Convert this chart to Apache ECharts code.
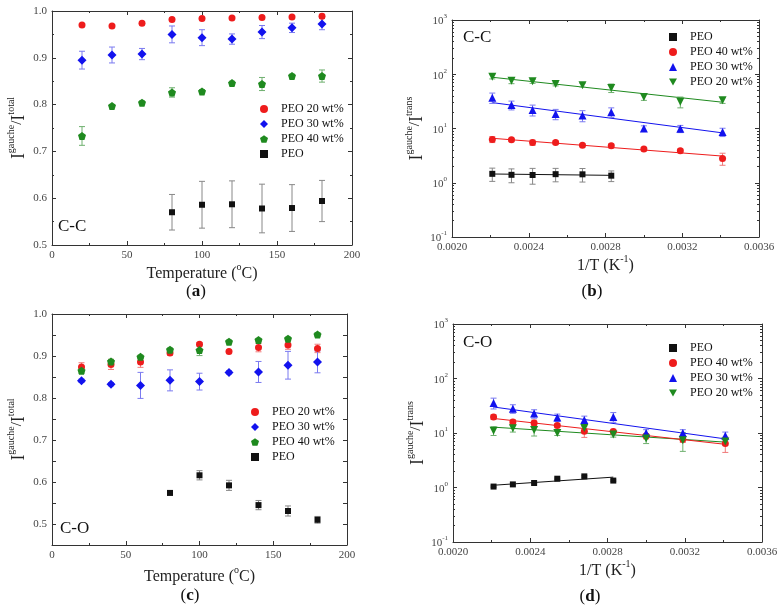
<!DOCTYPE html>
<html>
<head>
<meta charset="utf-8">
<script src="https://cdn.jsdelivr.net/npm/echarts@6/dist/echarts.min.js"></script>
<style>
html,body{margin:0;padding:0;background:#fff;}
#main{width:781px;height:614px;}
</style>
</head>
<body>
<div id="main"></div>
<script>
// (a) C-C 温度
var tempX = [20,40,60,80,100,120,140,160,180];
var tempPEO = [80,100,120,140,160,180];
var ccPEO20 = [0.970,0.968,0.974,0.982,0.984,0.985,0.986,0.987,0.989];
var ccPEO20Err = [0.003,0.003,0.003,0.003,0.003,0.003,0.003,0.003,0.004];
var ccPEO30 = [0.895,0.906,0.908,0.950,0.943,0.940,0.955,0.964,0.972];
var ccPEO30Err = [0.019,0.017,0.012,0.018,0.017,0.011,0.014,0.010,0.012];
var ccPEO40 = [0.733,0.797,0.804,0.826,0.828,0.846,0.844,0.861,0.861];
var ccPEO40Err = [0.020,0.003,0.004,0.010,0.004,0.004,0.014,0.004,0.013];
var ccPEO = [0.570,0.586,0.587,0.578,0.579,0.594];
var ccPEOErr = [0.038,0.050,0.050,0.052,0.050,0.044];

// (c) C-O 温度
var coPEO20 = [0.874,0.880,0.886,0.907,0.928,0.911,0.920,0.926,0.918];
var coPEO20Err = [0.010,0.012,0.013,0.005,0.004,0.003,0.010,0.010,0.010];
var coPEO30 = [0.841,0.833,0.830,0.842,0.839,0.861,0.862,0.878,0.886];
var coPEO30Err = [0.004,0.004,0.031,0.025,0.020,0.004,0.025,0.033,0.026];
var coPEO40 = [0.865,0.887,0.898,0.915,0.914,0.934,0.938,0.941,0.951];
var coPEO40Err = [0.006,0.005,0.004,0.004,0.013,0.004,0.004,0.004,0.005];
var coPEO = [0.574,0.616,0.592,0.545,0.531,0.510];
var coPEOErr = [0.005,0.011,0.012,0.011,0.012,0.008];

// (b)(d) 1/T
var invT = [0.00221,0.00231,0.00242,0.00254,0.00268,0.00283,0.00300,0.00319,0.00341];
var invTPEO = [0.00221,0.00231,0.00242,0.00254,0.00268,0.00283];
var fitX = [0.00221,0.00341];
var fitXPEO = [0.00221,0.00283];

var ccT20 = [90,76,74,66,63,56,38,31,33];
var ccT20Err = [8,9,6,5,5,10,5,7,4];
var ccT30 = [37,27,22,18.5,17.3,20,10,9.9,8.6];
var ccT30Err = [8,5,5,4,4,4,1.2,1.5,1.5];
var ccT40 = [6.3,6.2,5.5,5.5,4.9,4.8,4.2,3.9,2.8];
var ccT40Err = [0.8,0.4,0.6,0.4,0.3,0.4,0.3,0.3,0.7];
var ccTPEO = [1.46,1.40,1.39,1.44,1.43,1.35];
var ccTPEOErr = [0.4,0.4,0.45,0.4,0.4,0.3];
var ccFit20 = [88,30.5];
var ccFit30 = [30,8.3];
var ccFit40 = [6.6,3.1];
var ccFitPEO = [1.45,1.37];

var coT20 = [11,12.2,11.3,10,12.3,9.4,7.9,7.4,7.0];
var coT20Err = [2,1.8,2.5,1,2,1,1.5,2.8,1];
var coT30 = [35.6,28,22.7,19.2,17.4,19.7,10,10,8.9];
var coT30Err = [8,5,4,3,3,4,1.5,1.5,1.5];
var coT40 = [19.7,16,15.2,13.8,10.8,10.7,8.8,7.7,6.4];
var coT40Err = [2,1.5,2,1,2.5,1,1,1,2];
var coTPEO = [1.04,1.14,1.21,1.45,1.60,1.34];
var coTPEOErr = [0.03,0.03,0.03,0.04,0.05,0.04];
var coFit20 = [12.8,6.8];
var coFit30 = [30,7.8];
var coFit40 = [18.5,6.2];
var coFitPEO = [1.1,1.55];

var FONT = 'Liberation Serif';
var AXC = '#333';
var RED = '#ee1c1c', BLUE = '#1212ee', GREEN = '#1f8a1f', BLACK = '#111';
var RED_E = '#f07a7a', BLUE_E = '#7a7af0', GREEN_E = '#6fb06f', BLACK_E = '#888';
var PENTAGON = 'path://M0,-10 L9.51,-3.09 L5.88,8.09 L-5.88,8.09 L-9.51,-3.09 Z';
var DOWNTRI = 'path://M-10,-8 L10,-8 L0,9 Z';

function pts(xs, ys){
	return xs.map(function(x,i){ return [x, ys[i]]; });
}
function errPts(xs, ys, es){
	return xs.map(function(x,i){ return [x, ys[i]-es[i], ys[i]+es[i]]; });
}
function errBar(color){
	return function(params, api){
		var x = api.value(0);
		var p1 = api.coord([x, api.value(1)]);
		var p2 = api.coord([x, api.value(2)]);
		var w = 3;
		var st = {stroke: color, lineWidth: 1};
		return {type:'group', children:[
			{type:'line', shape:{x1:p1[0],y1:p1[1],x2:p2[0],y2:p2[1]}, style:st},
			{type:'line', shape:{x1:p1[0]-w,y1:p1[1],x2:p1[0]+w,y2:p1[1]}, style:st},
			{type:'line', shape:{x1:p2[0]-w,y1:p2[1],x2:p2[0]+w,y2:p2[1]}, style:st}
		]};
	};
}
function stripName(name){
	return name.split(':')[1];
}

var series = [];
function addSet(panel, idx, name, xs, ys, es, symbol, size, color, ecolor){
	series.push({
		type:'custom', xAxisIndex:idx*2, yAxisIndex:idx*2, silent:true, z:2,
		renderItem: errBar(ecolor), encode:{x:0, y:[1,2]},
		data: errPts(xs, ys, es)
	});
	series.push({
		type:'scatter', name: panel + ':' + name, xAxisIndex:idx*2, yAxisIndex:idx*2, z:3,
		symbol: symbol, symbolSize: size, itemStyle:{color: color, opacity:1},
		data: pts(xs, ys)
	});
}
function addFit(idx, xs, ys, color){
	series.push({
		type:'line', xAxisIndex:idx*2, yAxisIndex:idx*2, z:1, silent:true,
		symbol:'none', lineStyle:{color: color, width:1},
		data: pts(xs, ys)
	});
}

// (a)
addSet('a',0,'PEO 20 wt%',tempX,ccPEO20,ccPEO20Err,'circle',7,RED,RED_E);
addSet('a',0,'PEO 30 wt%',tempX,ccPEO30,ccPEO30Err,'diamond',9,BLUE,BLUE_E);
addSet('a',0,'PEO 40 wt%',tempX,ccPEO40,ccPEO40Err,PENTAGON,8,GREEN,GREEN_E);
addSet('a',0,'PEO',tempPEO,ccPEO,ccPEOErr,'rect',6,BLACK,BLACK_E);
// (b)
addFit(1,fitX,ccFit20,GREEN);
addFit(1,fitX,ccFit30,BLUE);
addFit(1,fitX,ccFit40,RED);
addFit(1,fitXPEO,ccFitPEO,BLACK);
addSet('b',1,'PEO',invTPEO,ccTPEO,ccTPEOErr,'rect',6,BLACK,BLACK_E);
addSet('b',1,'PEO 40 wt%',invT,ccT40,ccT40Err,'circle',7,RED,RED_E);
addSet('b',1,'PEO 30 wt%',invT,ccT30,ccT30Err,'triangle',8,BLUE,BLUE_E);
addSet('b',1,'PEO 20 wt%',invT,ccT20,ccT20Err,DOWNTRI,8,GREEN,GREEN_E);
// (c)
addSet('c',2,'PEO 20 wt%',tempX,coPEO20,coPEO20Err,'circle',7,RED,RED_E);
addSet('c',2,'PEO 30 wt%',tempX,coPEO30,coPEO30Err,'diamond',9,BLUE,BLUE_E);
addSet('c',2,'PEO 40 wt%',tempX,coPEO40,coPEO40Err,PENTAGON,8,GREEN,GREEN_E);
addSet('c',2,'PEO',tempPEO,coPEO,coPEOErr,'rect',6,BLACK,BLACK_E);
// (d)
addFit(3,fitX,coFit20,GREEN);
addFit(3,fitX,coFit30,BLUE);
addFit(3,fitX,coFit40,RED);
addFit(3,fitXPEO,coFitPEO,BLACK);
addSet('d',3,'PEO',invTPEO,coTPEO,coTPEOErr,'rect',6,BLACK,BLACK_E);
addSet('d',3,'PEO 40 wt%',invT,coT40,coT40Err,'circle',7,RED,RED_E);
addSet('d',3,'PEO 30 wt%',invT,coT30,coT30Err,'triangle',8,BLUE,BLUE_E);
addSet('d',3,'PEO 20 wt%',invT,coT20,coT20Err,DOWNTRI,8,GREEN,GREEN_E);

var tickLabel = {fontFamily:FONT, fontSize:11, color:'#444', margin:5};
var nameRich = {
	n:{fontFamily:FONT, fontSize:16, color:'#222', lineHeight:20, verticalAlign:'bottom'},
	s:{fontFamily:FONT, fontSize:10, color:'#222', lineHeight:11, verticalAlign:'top'},
	i:{fontFamily:FONT, fontSize:18, color:'#222', lineHeight:22, verticalAlign:'bottom'},
	sl:{fontFamily:FONT, fontSize:15, color:'#222', lineHeight:22, verticalAlign:'middle'}
};
var logRich = {
	b:{fontFamily:FONT, fontSize:11, color:'#444', lineHeight:14, verticalAlign:'bottom'},
	e:{fontFamily:FONT, fontSize:7, color:'#444', lineHeight:8, verticalAlign:'top'}
};
function logLabel(v){
	return '{b|10}{e|' + Math.round(Math.log(v)/Math.LN10) + '}';
}

function xAxes(gi, opt, name, gap){
	var base = {
		gridIndex:gi, type:'value', min:opt.min, max:opt.max, interval:opt.interval,
		axisLine:{show:true, onZero:false, lineStyle:{color:AXC, width:1}},
		axisTick:{show:true, inside:true, length:4, lineStyle:{color:AXC}},
		minorTick:{show:!!opt.minor, splitNumber:opt.minor || 5, length:2, lineStyle:{color:AXC}},
		splitLine:{show:false}
	};
	var bottom = Object.assign({}, base, {
		position:'bottom',
		axisLabel: Object.assign({}, tickLabel, {formatter: opt.fmt}),
		name:name, nameLocation:'middle', nameGap:gap,
		nameTextStyle:{rich:nameRich}
	});
	var top = Object.assign({}, base, {position:'top', axisLabel:{show:false}});
	return [bottom, top];
}
function yAxes(gi, opt, name, gap){
	var base = {
		gridIndex:gi, type:opt.type || 'value', min:opt.min, max:opt.max,
		axisLine:{show:true, onZero:false, lineStyle:{color:AXC, width:1}},
		axisTick:{show:true, inside:true, length:4, lineStyle:{color:AXC}},
		minorTick:{show:!!opt.minor, splitNumber:opt.minor || 5, length:2, lineStyle:{color:AXC}},
		splitLine:{show:false}
	};
	if(opt.interval) base.interval = opt.interval;
	if(opt.type == 'log') base.logBase = 10;
	var left = Object.assign({}, base, {
		position:'left',
		axisLabel: Object.assign({}, tickLabel, {formatter: opt.fmt, rich: logRich}),
		name:name, nameLocation:'middle', nameGap:gap,
		nameTextStyle:{rich:nameRich}
	});
	var right = Object.assign({}, base, {position:'right', axisLabel:{show:false}});
	return [left, right];
}

var tempName = '{n|Temperature (}{s|o}{n|C)}';
var invName = '{n|1/T (K}{s|-1}{n|)}';
var ratioTotal = '{i|I}{s|gauche}{sl|/}{i|I}{s|total}';
var ratioTrans = '{i|I}{s|gauche}{sl|/}{i|I}{s|trans}';

function fmt1(v){ return v.toFixed(1); }
function fmtHalf(v){
	var t = v*10;
	return Math.abs(t - Math.round(t)) < 1e-6 ? v.toFixed(1) : '';
}
function fmt4(v){ return v.toFixed(4); }

var xAxisList = [].concat(
	xAxes(0,{min:0,max:200,interval:50,minor:2}, tempName, 17),
	xAxes(1,{min:0.0020,max:0.0036,interval:0.0004,minor:2,fmt:fmt4}, invName, 14),
	xAxes(2,{min:0,max:200,interval:50,minor:2}, tempName, 20),
	xAxes(3,{min:0.0020,max:0.0036,interval:0.0004,minor:2,fmt:fmt4}, invName, 14)
);
var yAxisList = [].concat(
	yAxes(0,{min:0.5,max:1.0,interval:0.1,minor:2,fmt:fmt1}, ratioTotal, 24),
	yAxes(1,{type:'log',min:0.1,max:1000,minor:9,fmt:logLabel}, ratioTrans, 24),
	yAxes(2,{min:0.45,max:1.0,interval:0.05,fmt:fmtHalf}, ratioTotal, 24),
	yAxes(3,{type:'log',min:0.1,max:1000,minor:9,fmt:logLabel}, ratioTrans, 24)
);

function legendAt(left, top, names){
	return {
		left:left, top:top, orient:'vertical', data:names, formatter:stripName,
		itemWidth:8, itemHeight:8, itemGap:3, selectedMode:false,
		textStyle:{fontFamily:FONT, fontSize:12, color:'#111', padding:[0,0,0,8]}
	};
}

function panelText(x, y, txt){
	return {type:'text', left:x, top:y, style:{text:txt, fontFamily:FONT, fontSize:17, fill:'#111'}};
}
function panelTag(cx, cy, letter){
	return {type:'text', x:cx, y:cy, style:{
		text:'{p|(}{l|' + letter + '}{p|)}', align:'center', verticalAlign:'middle',
		rich:{p:{fontFamily:FONT, fontSize:17, fill:'#111'}, l:{fontFamily:FONT, fontSize:17, fontWeight:'bold', fill:'#111'}}
	}};
}

var myChart = echarts.init(document.getElementById('main'));
var option = {
	animation:false,
	backgroundColor:'#fff',
	grid:[
		{left:52, top:11, width:300, height:234},
		{left:452, top:20, width:307, height:217},
		{left:52, top:314, width:295, height:231},
		{left:453, top:324, width:309, height:218}
	],
	xAxis: xAxisList,
	yAxis: yAxisList,
	legend:[
		legendAt(255, 98, ['a:PEO 20 wt%','a:PEO 30 wt%','a:PEO 40 wt%','a:PEO']),
		legendAt(664, 26, ['b:PEO','b:PEO 40 wt%','b:PEO 30 wt%','b:PEO 20 wt%']),
		legendAt(246, 401, ['c:PEO 20 wt%','c:PEO 30 wt%','c:PEO 40 wt%','c:PEO']),
		legendAt(664, 337, ['d:PEO','d:PEO 40 wt%','d:PEO 30 wt%','d:PEO 20 wt%'])
	],
	graphic:[
		panelText(58, 218, 'C-C'),
		panelText(463, 29, 'C-C'),
		panelText(60, 520, 'C-O'),
		panelText(463, 334, 'C-O'),
		panelTag(196, 292, 'a'),
		panelTag(592, 292, 'b'),
		panelTag(190, 596, 'c'),
		panelTag(590, 597, 'd')
	],
	series: series
};
myChart.setOption(option);
</script>
</body>
</html>
